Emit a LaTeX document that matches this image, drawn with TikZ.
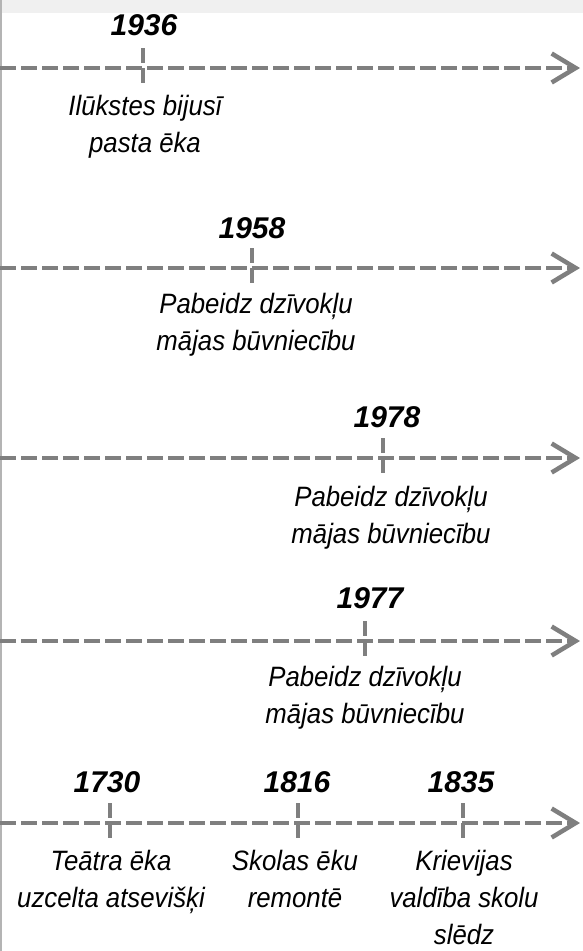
\documentclass[tikz,border=0pt]{standalone}
\usepackage{fontspec}
\usepackage{graphicx}
\setmainfont{Liberation Sans}
\usetikzlibrary{arrows.meta}
\definecolor{linegray}{HTML}{7F7F7F}
\definecolor{bandgray}{HTML}{F0F0F0}
\definecolor{edgegray}{HTML}{B4B4B4}
\newcommand{\evtext}[1]{\scalebox{0.92}[1]{\begin{tabular}[t]{@{}c@{}}#1\end{tabular}}}
\tikzset{
  timeline/.style={draw=linegray, line width=4pt, dash pattern=on 16pt off 5pt,
    -{Straight Barb[length=24pt,width=29pt,line width=4.5pt]}},
  tickmark/.style={draw=linegray, line width=4pt, dash pattern=on 15pt off 5pt},
  yearlabel/.style={anchor=base, inner sep=0pt, font=\fontsize{30}{36}\selectfont\bfseries\itshape},
  eventlabel/.style={anchor=base, inner sep=0pt, font=\fontsize{28}{37}\selectfont\itshape}
}
\begin{document}
\begin{tikzpicture}[x=1pt,y=-1pt]
\useasboundingbox (0,0) rectangle (583,951);
\fill[bandgray] (0,0) rectangle (583,13);
\draw[edgegray, line width=2pt] (1,0) -- (1,951);

% row 1
\coordinate (s1) at (0,68); \coordinate (e1) at (580,68);
\draw[timeline] (s1) -- (e1);
\coordinate (t1a) at (143,48); \coordinate (t1b) at (143,85);
\draw[tickmark] (t1a) -- (t1b);
\node[yearlabel] (y1) at (144,35) {1936};
\node[eventlabel] (l1) at (145,115) {\evtext{Ilūkstes bijusī\\pasta ēka}};

% row 2
\coordinate (s2) at (0,268); \coordinate (e2) at (580,268);
\draw[timeline] (s2) -- (e2);
\coordinate (t2a) at (252,248); \coordinate (t2b) at (252,285);
\draw[tickmark] (t2a) -- (t2b);
\node[yearlabel] (y2) at (252,238) {1958};
\node[eventlabel] (l2) at (256,313) {\evtext{Pabeidz dzīvokļu\\mājas būvniecību}};

% row 3
\coordinate (s3) at (0,458); \coordinate (e3) at (580,458);
\draw[timeline] (s3) -- (e3);
\coordinate (t3a) at (383,438); \coordinate (t3b) at (383,475);
\draw[tickmark] (t3a) -- (t3b);
\node[yearlabel] (y3) at (387,427) {1978};
\node[eventlabel] (l3) at (391,506) {\evtext{Pabeidz dzīvokļu\\mājas būvniecību}};

% row 4
\coordinate (s4) at (0,641); \coordinate (e4) at (580,641);
\draw[timeline] (s4) -- (e4);
\coordinate (t4a) at (365,621); \coordinate (t4b) at (365,658);
\draw[tickmark] (t4a) -- (t4b);
\node[yearlabel] (y4) at (370,608) {1977};
\node[eventlabel] (l4) at (365,686) {\evtext{Pabeidz dzīvokļu\\mājas būvniecību}};

% row 5
\coordinate (s5) at (0,823); \coordinate (e5) at (580,823);
\draw[timeline] (s5) -- (e5);
\coordinate (t5a) at (110,803); \coordinate (t5b) at (110,840);
\draw[tickmark] (t5a) -- (t5b);
\coordinate (t6a) at (298,803); \coordinate (t6b) at (298,840);
\draw[tickmark] (t6a) -- (t6b);
\coordinate (t7a) at (463,803); \coordinate (t7b) at (463,840);
\draw[tickmark] (t7a) -- (t7b);
\node[yearlabel] (y5) at (107,792) {1730};
\node[yearlabel] (y6) at (297,792) {1816};
\node[yearlabel] (y7) at (461,792) {1835};
\node[eventlabel] (l5) at (111,870) {\evtext{Teātra ēka\\uzcelta atsevišķi}};
\node[eventlabel] (l6) at (295,870) {\evtext{Skolas ēku\\remontē}};
\node[eventlabel] (l7) at (464,870) {\evtext{Krievijas\\valdība skolu\\slēdz}};
\end{tikzpicture}
\end{document}
